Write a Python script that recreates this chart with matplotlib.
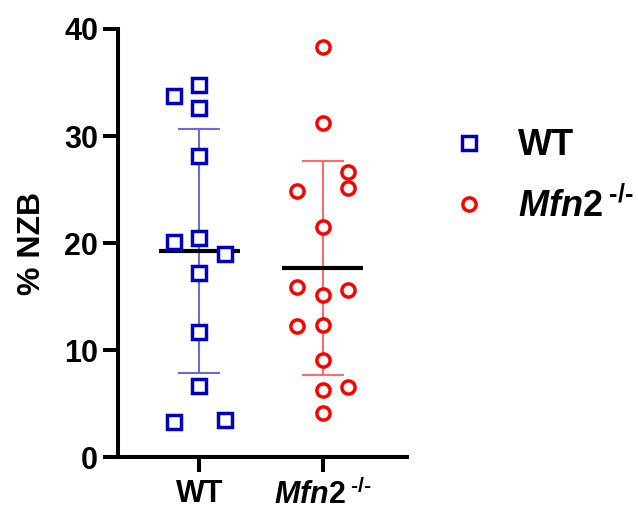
import numpy as np
import matplotlib
matplotlib.use('Agg')
import matplotlib.pyplot as plt
from matplotlib.lines import Line2D

# ---------------- data ----------------
categories = ['WT', 'Mfn2']
tick_labels = ['WT', r'$\mathit{Mfn2}^{\;\text{-/-}}$']
wt_values = [34.8, 33.7, 32.6, 28.1, 20.5, 20.1, 19.0, 17.2, 11.7, 6.6, 3.5, 3.3]
wt_slot = [0, -1, 0, 0, 0, -1, 1, 0, 0, 0, 1, -1]
mfn2_values = [38.3, 31.2, 26.6, 25.1, 24.9, 21.5, 15.9, 15.6, 15.1, 12.3, 12.2, 9.1, 6.5, 6.3, 4.1]
mfn2_slot = [0, 0, 1, 1, -1, 0, -1, 1, 0, 0, -1, 0, 1, 0, 0]
y_ticks = [0, 10, 20, 30, 40]

# ---------------- style ----------------
plt.rcParams['font.family'] = ['Liberation Sans', 'DejaVu Sans']
plt.rcParams['font.weight'] = 'bold'
plt.rcParams['mathtext.fontset'] = 'custom'
plt.rcParams['mathtext.it'] = 'Liberation Sans:italic:bold'
plt.rcParams['mathtext.rm'] = 'Liberation Sans:bold'
plt.rcParams['mathtext.bf'] = 'Liberation Sans:bold'

fig = plt.figure(figsize=(6.38, 5.11), dpi=100)
ax = fig.add_axes([118 / 638, 54 / 511, (407 - 118) / 638, 428 / 511])

groups = [
    (wt_values, wt_slot, 's', '#0000C0', '#6A6AD8'),
    (mfn2_values, mfn2_slot, 'o', '#FF0000', '#FF6A6A'),
]
slot_w = 0.207
for i, (vals, slots, mk, col, ecol) in enumerate(groups):
    v = np.array(vals)
    m = v.mean()
    sd = v.std(ddof=1)
    ax.errorbar([i], [m], yerr=[sd], fmt='none', ecolor=ecol, elinewidth=1.5,
                capsize=15, capthick=1.5, zorder=2)
    ax.hlines(m, i - 0.33, i + 0.33, color='black', lw=3.0, zorder=3)
    xs = i + np.array(slots) * slot_w
    ax.plot(xs, v, linestyle='none', marker=mk, markersize=9.5, markeredgewidth=2.5,
            markeredgecolor=col, markerfacecolor='white', zorder=4)

ax.set_xlim(-0.659, 1.683)
ax.set_ylim(0, 40)
ax.set_yticks(y_ticks)
ax.set_xticks(range(len(categories)))
ax.set_xticklabels(tick_labels)
for s in ['top', 'right']:
    ax.spines[s].set_visible(False)
for s in ['left', 'bottom']:
    ax.spines[s].set_linewidth(2.9)
ax.tick_params(axis='both', length=10.8, width=2.9, labelsize=22)
ax.tick_params(axis='y', pad=3.5)
ax.tick_params(axis='x', pad=5)
ax.set_ylabel('% NZB', fontsize=23, fontweight='bold')
ax.yaxis.set_label_coords(-0.245, 0.5)

handles = [
    Line2D([], [], linestyle='none', marker='s', markersize=9.5, markeredgewidth=2.5,
           markeredgecolor='#0000C0', markerfacecolor='white'),
    Line2D([], [], linestyle='none', marker='o', markersize=9.5, markeredgewidth=2.5,
           markeredgecolor='#FF0000', markerfacecolor='white'),
]
fig.legend(handles, ['WT', r'$\mathit{Mfn2}^{\;\text{-/-}}$'], loc='center left',
           bbox_to_anchor=(451 / 638, 1 - 176.5 / 511), frameon=False, fontsize=26,
           handlelength=1.0, handletextpad=0.86, labelspacing=0.67, borderpad=0,
           borderaxespad=0)

fig.savefig('out.png', dpi=100)
